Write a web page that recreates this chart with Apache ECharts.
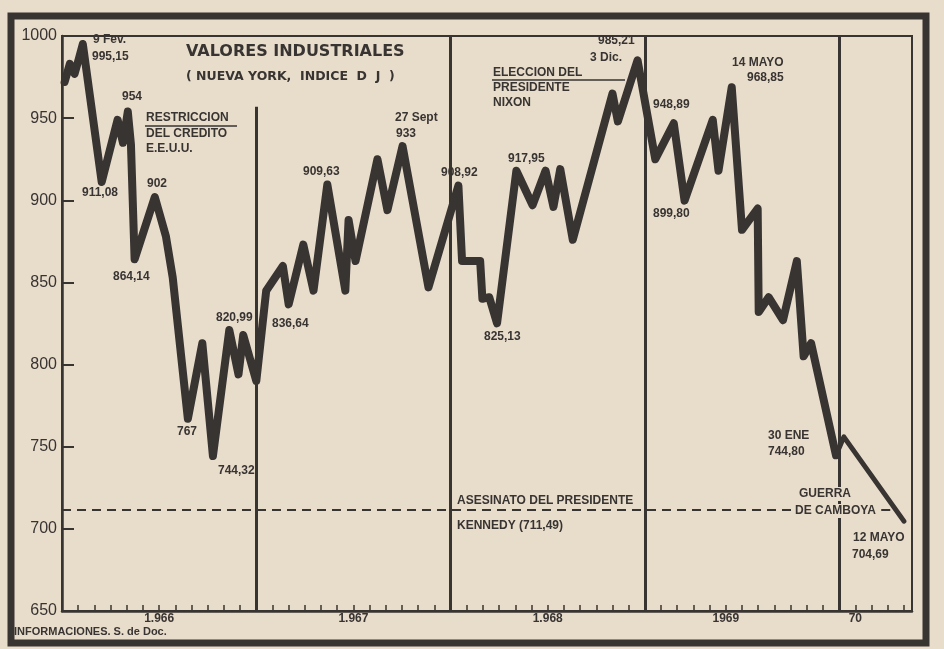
<!DOCTYPE html>
<html><head><meta charset="utf-8">
<script src="https://cdn.jsdelivr.net/npm/echarts/dist/echarts.min.js"></script>
<style>html,body{margin:0;padding:0;background:#e8dccb;}#c{width:944px;height:649px;}</style>
</head><body><div id="c"></div>
<script>
// ---- data (Dow Jones industrials, turning points) ----
const dates = [
 '1966-01-06','1966-01-16','1966-01-25','1966-02-02','1966-02-09','1966-03-15','1966-04-14','1966-04-24',
 '1966-05-03','1966-05-09','1966-05-16','1966-06-23','1966-07-14','1966-07-27','1966-08-25','1966-09-21',
 '1966-10-11','1966-11-11','1966-11-28','1966-12-07','1967-01-01','1967-01-20','1967-02-19','1967-03-01',
 '1967-03-29','1967-04-17','1967-05-13','1967-06-16','1967-06-22','1967-07-05','1967-08-16','1967-09-04',
 '1967-10-02','1967-11-20','1968-01-16','1968-01-23','1968-02-25','1968-02-29','1968-03-13','1968-03-28',
 '1968-05-03','1968-06-03','1968-06-27','1968-07-12','1968-07-25','1968-08-18','1968-11-01','1968-11-11',
 '1968-12-18','1969-01-21','1969-02-23','1969-03-15','1969-05-07','1969-05-18','1969-06-12','1969-07-01',
 '1969-07-31','1969-08-02','1969-08-21','1969-09-17','1969-10-13','1969-10-26','1969-11-09','1969-12-26',
 '1970-01-10','1970-05-01'
];
const values = [
 972, 983, 977, 986, 995.15, 911.08, 949, 935,
 954, 934, 864.14, 902, 878, 853, 767, 813,
 744.32, 820.99, 794, 818, 790, 845, 860, 836.64,
 873, 845, 909.63, 845, 888, 863, 925, 894,
 933, 847, 908.92, 863, 863, 840, 841, 825.13,
 917.95, 897, 918, 896, 919, 876, 965, 948,
 985.21, 925, 946.89, 899.80, 949, 918, 968.85, 882,
 895, 832, 841, 827, 863, 805, 813, 744.80,
 756, 704.69
];
const thinFrom = '1969-12-26';          // last stretch is drawn with a thinner stroke
const kennedyValue = 711.49;
const yMin = 650, yMax = 1000, yStep = 50;
const yearLabels = ['1.966', '1.967', '1.968', '1969', '70'];
const yearLabelMonths = [6, 18, 30, 41, 49];
const yearBoundaries = [12, 24, 36, 48];

// ---- helpers ----
const INK = '#383432';
const PAPER = '#e8dccb';
function toMonth(s) {
  const p = s.split('-').map(Number);
  const dim = new Date(p[0], p[1], 0).getDate();
  return (p[0] - 1966) * 12 + (p[1] - 1) + (p[2] - 1) / dim;
}
const pts = dates.map((d, i) => [toMonth(d), values[i]]);
const cut = dates.indexOf(thinFrom);
const thick = pts.slice(0, cut + 1);
const thin = pts.slice(cut);

const F = "'Liberation Sans', Arial, sans-serif";
const FD = "'DejaVu Sans', sans-serif";
function t(text, x, y, size, fam, extra) {
  return {
    type: 'text', z: 50,
    style: Object.assign({ text: text, x: x, y: y, fill: INK,
      font: 'bold ' + (size || 12) + 'px ' + (fam || F),
      textVerticalAlign: 'middle', verticalAlign: 'middle' }, extra || {})
  };
}
const notes = [
  ['9 Fev.', 93, 40], ['995,15', 92, 57], ['911,08', 82, 193], ['954', 122, 97],
  ['RESTRICCION', 146, 118], ['DEL CREDITO', 146, 134], ['E.E.U.U.', 146, 149],
  ['902', 147, 184], ['864,14', 113, 277], ['767', 177, 432], ['744,32', 218, 471],
  ['820,99', 216, 318], ['836,64', 272, 324], ['909,63', 303, 172],
  ['27 Sept', 395, 118], ['933', 396, 134], ['908,92', 441, 173],
  ['825,13', 484, 337], ['917,95', 508, 159],
  ['ELECCION DEL', 493, 73], ['PRESIDENTE', 493, 88], ['NIXON', 493, 103],
  ['985,21', 598, 41], ['3 Dic.', 590, 58], ['948,89', 653, 105], ['899,80', 653, 214],
  ['14 MAYO', 732, 63], ['968,85', 747, 78], ['30 ENE', 768, 436], ['744,80', 768, 452],
  ['12 MAYO', 853, 538], ['704,69', 852, 555],
  ['ASESINATO DEL PRESIDENTE', 457, 501], ['KENNEDY (711,49)', 457, 526]
];
const graphics = notes.map(n => t(n[0], n[1], n[2], 12));
graphics.push(t('GUERRA', 798, 494, 12, F, { backgroundColor: PAPER, padding: [1, 1] }));
graphics.push(t('DE CAMBOYA', 793, 511, 12, F, { backgroundColor: PAPER, padding: [1, 2] }));
graphics.push(t('VALORES INDUSTRIALES', 186, 52, 16, FD));
graphics.push(t('( NUEVA YORK,  INDICE  D  J  )', 186, 77, 12.5, FD));
graphics.push(t('INFORMACIONES. S. de Doc.', 14, 632, 11));
graphics.push({ type: 'line', z: 40, shape: { x1: 145, y1: 126, x2: 237, y2: 126 }, style: { stroke: INK, lineWidth: 1.5 } });
graphics.push({ type: 'line', z: 40, shape: { x1: 492, y1: 80, x2: 625, y2: 80 }, style: { stroke: INK, lineWidth: 1.5 } });
graphics.push({ type: 'rect', z: 60, shape: { x: 11, y: 16, width: 915, height: 627 }, style: { fill: 'none', stroke: INK, lineWidth: 7 } });

const chart = echarts.init(document.getElementById('c'), null, { renderer: 'canvas' });
chart.setOption({
  backgroundColor: PAPER,
  animation: false,
  grid: { left: 62, right: 32, top: 36, bottom: 38, show: true, borderColor: INK, borderWidth: 2, backgroundColor: 'transparent' },
  xAxis: {
    type: 'value', min: 0, max: 52.5, interval: 1,
    axisLine: { lineStyle: { color: INK, width: 2.5 } },
    axisTick: { inside: true, length: 6, lineStyle: { color: INK, width: 1.5 } },
    splitLine: { show: false },
    axisLabel: {
      color: INK, fontFamily: F, fontWeight: 'bold', fontSize: 12, margin: 2,
      formatter: v => { const i = yearLabelMonths.indexOf(v); return i >= 0 ? yearLabels[i] : ''; }
    }
  },
  yAxis: {
    type: 'value', min: yMin, max: yMax, interval: yStep,
    axisLine: { show: true, lineStyle: { color: INK, width: 2.5 } },
    axisTick: { show: true, inside: true, length: 12, lineStyle: { color: INK, width: 2 } },
    splitLine: { show: false },
    axisLabel: { color: INK, fontFamily: F, fontSize: 16, margin: 5, formatter: v => String(v) }
  },
  series: [
    {
      type: 'line', data: thick, symbol: 'none', z: 10,
      lineStyle: { color: INK, width: 8, join: 'round', cap: 'round' },
      markLine: {
        silent: true, symbol: 'none', label: { show: false },
        lineStyle: { color: INK, width: 3, type: 'solid' },
        data: [
          [{ coord: [yearBoundaries[0], yMin] }, { coord: [yearBoundaries[0], 957] }],
          [{ coord: [yearBoundaries[1], yMin] }, { coord: [yearBoundaries[1], yMax] }],
          [{ coord: [yearBoundaries[2], yMin] }, { coord: [yearBoundaries[2], yMax] }],
          [{ coord: [yearBoundaries[3], yMin] }, { coord: [yearBoundaries[3], yMax] }]
        ]
      }
    },
    {
      type: 'line', data: thin, symbol: 'none', z: 10,
      lineStyle: { color: INK, width: 5, join: 'round', cap: 'round' },
      markLine: {
        silent: true, symbol: 'none', label: { show: false },
        lineStyle: { color: INK, width: 2, type: [9, 6] },
        data: [
          [{ coord: [0, kennedyValue] }, { coord: [45.5, kennedyValue] }],
          [{ coord: [50.6, kennedyValue] }, { coord: [51.6, kennedyValue] }]
        ]
      }
    }
  ],
  graphic: graphics
});
</script></body></html>
